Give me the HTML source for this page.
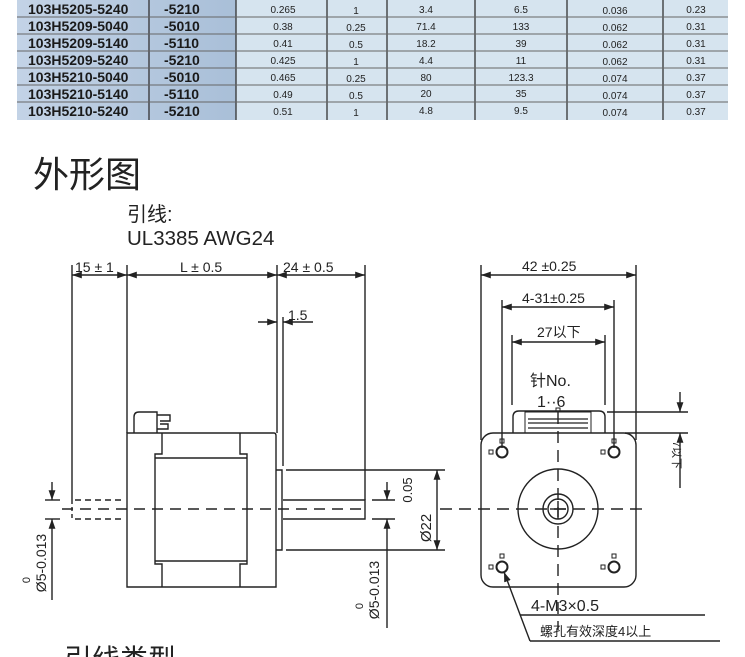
<!DOCTYPE html>
<html><head><meta charset="utf-8"><style>
html,body{margin:0;padding:0;background:#fff;}
body{width:745px;height:657px;overflow:hidden;position:relative;font-family:"Liberation Sans","Noto Sans CJK SC",sans-serif;}
svg{position:absolute;left:0;top:0;}
</style></head><body>
<svg width="745" height="657" viewBox="0 0 745 657" xmlns="http://www.w3.org/2000/svg">
<defs>
<marker id="a" viewBox="0 0 10 10" refX="10" refY="5" markerWidth="7" markerHeight="7" orient="auto-start-reverse"><path d="M0,1.5 L10,5 L0,8.5 z" fill="#222"/></marker>
<linearGradient id="g1" x1="0" x2="1"><stop offset="0" stop-color="#c3d3e6"/><stop offset="1" stop-color="#a9bfd8"/></linearGradient>
</defs>
<!-- table -->
<g font-family="Liberation Sans, sans-serif">
<rect x="17" y="0" width="219" height="120" fill="url(#g1)"/>
<rect x="236" y="0" width="492" height="120" fill="#d6e4ef"/>
<g stroke="#333" stroke-width="1.3">
<line x1="149" y1="0" x2="149" y2="120"/><line x1="236" y1="0" x2="236" y2="120"/>
<line x1="327" y1="0" x2="327" y2="120"/><line x1="387" y1="0" x2="387" y2="120"/>
<line x1="475" y1="0" x2="475" y2="120"/><line x1="567" y1="0" x2="567" y2="120"/>
<line x1="663" y1="0" x2="663" y2="120"/>
</g>
<g stroke="#666" stroke-width="1">
<line x1="17" y1="17" x2="728" y2="17"/><line x1="17" y1="34" x2="728" y2="34"/>
<line x1="17" y1="51" x2="728" y2="51"/><line x1="17" y1="68" x2="728" y2="68"/>
<line x1="17" y1="85" x2="728" y2="85"/><line x1="17" y1="102" x2="728" y2="102"/>
</g>
<g font-size="14" font-weight="bold" fill="#1a1a1a">
<text x="28" y="14">103H5205-5240</text><text x="28" y="31">103H5209-5040</text><text x="28" y="48">103H5209-5140</text><text x="28" y="65">103H5209-5240</text><text x="28" y="82">103H5210-5040</text><text x="28" y="99">103H5210-5140</text><text x="28" y="116">103H5210-5240</text>
<text x="164" y="14">-5210</text><text x="164" y="31">-5010</text><text x="164" y="48">-5110</text><text x="164" y="65">-5210</text><text x="164" y="82">-5010</text><text x="164" y="99">-5110</text><text x="164" y="116">-5210</text>
</g>
<g font-size="10" fill="#222" text-anchor="middle">
<text x="283" y="13">0.265</text><text x="356" y="14">1</text><text x="426" y="13">3.4</text><text x="521" y="13">6.5</text><text x="615" y="14">0.036</text><text x="696" y="13">0.23</text>
<text x="283" y="30">0.38</text><text x="356" y="31">0.25</text><text x="426" y="30">71.4</text><text x="521" y="30">133</text><text x="615" y="31">0.062</text><text x="696" y="30">0.31</text>
<text x="283" y="47">0.41</text><text x="356" y="48">0.5</text><text x="426" y="47">18.2</text><text x="521" y="47">39</text><text x="615" y="48">0.062</text><text x="696" y="47">0.31</text>
<text x="283" y="64">0.425</text><text x="356" y="65">1</text><text x="426" y="64">4.4</text><text x="521" y="64">11</text><text x="615" y="65">0.062</text><text x="696" y="64">0.31</text>
<text x="283" y="81">0.465</text><text x="356" y="82">0.25</text><text x="426" y="81">80</text><text x="521" y="81">123.3</text><text x="615" y="82">0.074</text><text x="696" y="81">0.37</text>
<text x="283" y="98">0.49</text><text x="356" y="99">0.5</text><text x="426" y="97">20</text><text x="521" y="97">35</text><text x="615" y="99">0.074</text><text x="696" y="98">0.37</text>
<text x="283" y="115">0.51</text><text x="356" y="116">1</text><text x="426" y="114">4.8</text><text x="521" y="114">9.5</text><text x="615" y="116">0.074</text><text x="696" y="115">0.37</text>
</g>
</g>
<!-- headings -->
<text x="33" y="187" font-size="36" fill="#222" font-family="Liberation Sans, Noto Sans CJK SC, sans-serif">外形图</text>
<text x="127" y="221" font-size="20" fill="#222" font-family="Liberation Sans, Noto Sans CJK SC, sans-serif">引线:</text>
<text x="127" y="245" font-size="20.5" fill="#222" font-family="Liberation Sans, Noto Sans CJK SC, sans-serif">UL3385 AWG24</text>
<text x="64" y="669" font-size="28" fill="#222" font-family="Liberation Sans, Noto Sans CJK SC, sans-serif">引线类型</text>

<g stroke="#222" stroke-width="1.4" fill="none">
<!-- left view -->
<line x1="72" y1="265" x2="72" y2="500"/>
<line x1="127" y1="265" x2="127" y2="433"/>
<line x1="277" y1="265" x2="277" y2="433"/>
<line x1="365" y1="265" x2="365" y2="500"/>
<line x1="283" y1="317" x2="283" y2="466"/>
<line x1="72" y1="275" x2="127" y2="275" marker-start="url(#a)" marker-end="url(#a)"/>
<line x1="127" y1="275" x2="277" y2="275" marker-start="url(#a)" marker-end="url(#a)"/>
<line x1="277" y1="275" x2="365" y2="275" marker-start="url(#a)" marker-end="url(#a)"/>
<line x1="258" y1="322" x2="277" y2="322" marker-end="url(#a)"/>
<line x1="313" y1="322" x2="283" y2="322" marker-end="url(#a)"/>
<path d="M127,433 H274 Q276,433 276,436 V587 H127 Z"/>
<path d="M162,433 V454 H155 V564 H162 V587"/>
<path d="M240,433 V454 H247 V564 H240 V587"/>
<line x1="155" y1="458" x2="247" y2="458"/>
<line x1="155" y1="561" x2="247" y2="561"/>
<path d="M134,433 V417 Q134,412 139,412 H157 V433"/>
<path d="M157,415 H170 V421 H160 M160,424 H168 V429 H157"/>
<path d="M276,470 H282 V550 H276"/>
<path d="M283,500 H365 V519 H283"/>
<line x1="286" y1="470" x2="445" y2="470"/>
<line x1="286" y1="550" x2="445" y2="550"/>
<line x1="437" y1="470" x2="437" y2="550" marker-start="url(#a)" marker-end="url(#a)"/>
<line x1="372" y1="500" x2="395" y2="500"/>
<line x1="372" y1="519" x2="395" y2="519"/>
<line x1="387" y1="482" x2="387" y2="500" marker-end="url(#a)"/>
<line x1="387" y1="628" x2="387" y2="519" marker-end="url(#a)"/>
<line x1="45" y1="500" x2="60" y2="500"/>
<line x1="45" y1="519" x2="60" y2="519"/>
<line x1="52" y1="482" x2="52" y2="500" marker-end="url(#a)"/>
<line x1="52" y1="600" x2="52" y2="519" marker-end="url(#a)"/>
<line x1="72" y1="500" x2="72" y2="519" stroke-dasharray="4,3"/>
<line x1="75" y1="500" x2="122" y2="500" stroke-dasharray="6,4"/>
<line x1="75" y1="519" x2="122" y2="519" stroke-dasharray="6,4"/>
<line x1="62" y1="509" x2="368" y2="509" stroke-dasharray="11,7"/>
<!-- right view -->
<line x1="481" y1="265" x2="481" y2="440"/>
<line x1="636" y1="265" x2="636" y2="440"/>
<line x1="502" y1="300" x2="502" y2="448"/>
<line x1="614" y1="300" x2="614" y2="448"/>
<line x1="512" y1="335" x2="512" y2="405"/>
<line x1="605" y1="335" x2="605" y2="405"/>
<line x1="481" y1="275" x2="636" y2="275" marker-start="url(#a)" marker-end="url(#a)"/>
<line x1="502" y1="307" x2="614" y2="307" marker-start="url(#a)" marker-end="url(#a)"/>
<line x1="512" y1="342" x2="605" y2="342" marker-start="url(#a)" marker-end="url(#a)"/>
<rect x="481" y="433" width="155" height="154" rx="12"/>
<path d="M513,433 V417 Q513,411 519,411 H599 Q605,411 605,417 V433"/>
<rect x="525" y="412" width="66" height="21" stroke-width="1"/>
<path d="M528,419 h60 M528,428 h60 M528,423 h60" stroke-width="1.2"/>
<line x1="607" y1="412" x2="688" y2="412"/>
<line x1="625" y1="433" x2="688" y2="433"/>
<line x1="680" y1="392" x2="680" y2="412" marker-end="url(#a)"/>
<line x1="680" y1="488" x2="680" y2="433" marker-end="url(#a)"/>
<circle cx="558" cy="509" r="40"/>
<circle cx="558" cy="509" r="15"/>
<circle cx="558" cy="509" r="10"/>
<line x1="550" y1="509" x2="566" y2="509"/><line x1="558" y1="501" x2="558" y2="517"/>
<line x1="440" y1="509" x2="642" y2="509" stroke-dasharray="12,7"/>
<line x1="558" y1="412" x2="558" y2="630" stroke-dasharray="12,7"/>
<g stroke-width="2"><circle cx="502" cy="452" r="5.5"/><circle cx="614" cy="452" r="5.5"/><circle cx="502" cy="567" r="5.5"/><circle cx="614" cy="567" r="5.5"/></g>
<g stroke-width="1"><rect x="500" y="439" width="4" height="4"/><rect x="612" y="439" width="4" height="4"/><rect x="500" y="554" width="4" height="4"/><rect x="612" y="554" width="4" height="4"/>
<rect x="489" y="450" width="4" height="4"/><rect x="601" y="450" width="4" height="4"/><rect x="489" y="565" width="4" height="4"/><rect x="601" y="565" width="4" height="4"/><rect x="556" y="408" width="4" height="4"/></g>
<line x1="520" y1="615" x2="705" y2="615"/>
<line x1="530" y1="641" x2="720" y2="641"/>
<line x1="530" y1="641" x2="504" y2="572" marker-end="url(#a)"/>
</g>
<g fill="#222" font-family="Liberation Sans, Noto Sans CJK SC, sans-serif">
<text x="75" y="272" font-size="14">15 ± 1</text>
<text x="180" y="272" font-size="14">L ± 0.5</text>
<text x="283" y="272" font-size="14">24 ± 0.5</text>
<text x="288" y="320" font-size="14">1.5</text>
<text x="522" y="271" font-size="14">42  ±0.25</text>
<text x="522" y="303" font-size="14">4-31±0.25</text>
<text x="537" y="337" font-size="14">27以下</text>
<text x="530" y="386" font-size="16">针No.</text>
<text x="537" y="407" font-size="16">1··6</text>
<text x="531" y="611" font-size="16">4-M3×0.5</text>
<text x="540" y="636" font-size="13">螺孔有效深度4以上</text>
<text transform="translate(673,455) rotate(90)" font-size="11" text-anchor="middle">7以下</text>
<text transform="translate(412,490) rotate(-90)" font-size="13" text-anchor="middle">0.05</text>
<text transform="translate(431,528) rotate(-90)" font-size="15" text-anchor="middle">Ø22</text>
<text transform="translate(46,563) rotate(-90)" font-size="14" text-anchor="middle">Ø5-0.013</text>
<text transform="translate(30,580) rotate(-90)" font-size="11" text-anchor="middle">0</text>
<text transform="translate(379,590) rotate(-90)" font-size="14" text-anchor="middle">Ø5-0.013</text>
<text transform="translate(363,606) rotate(-90)" font-size="11" text-anchor="middle">0</text>
</g>
</svg>
</body></html>
